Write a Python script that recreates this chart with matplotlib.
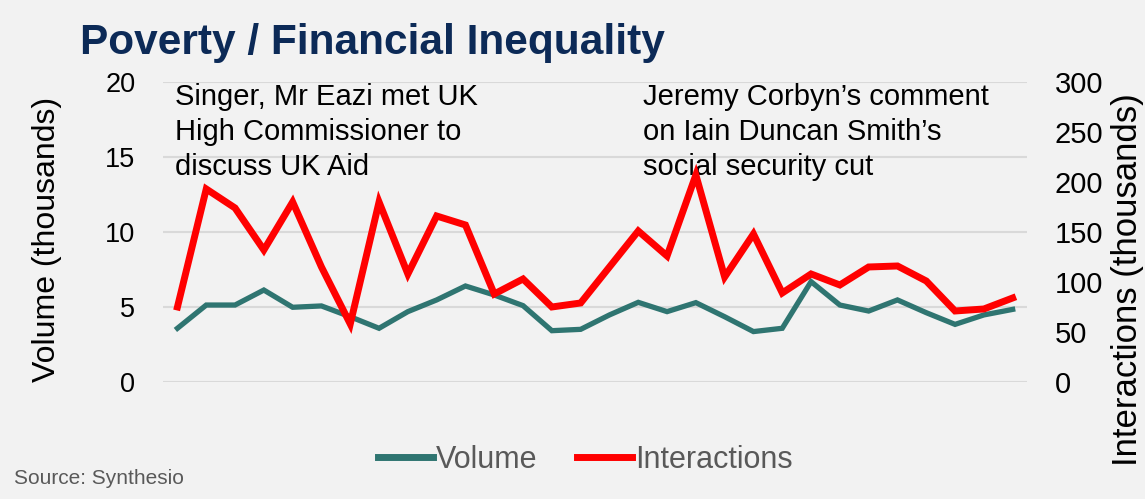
import matplotlib.pyplot as plt
from matplotlib.lines import Line2D

# weekly values, in thousands
volume = [3.58, 5.13, 5.13, 6.13, 4.98, 5.07, 4.35, 3.58, 4.69, 5.47,
          6.4, 5.8, 5.09, 3.42, 3.51, 4.47, 5.31, 4.69, 5.29, 4.35,
          3.36, 3.58, 6.69, 5.13, 4.73, 5.47, 4.62, 3.84, 4.47, 4.84]
interactions = [75, 193, 174, 132, 180, 115, 58, 180, 108, 166,
                157, 88, 103, 75, 79, 115, 151, 126, 207, 105,
                148, 89, 108, 97, 115, 116, 101, 71, 73, 84]
weeks = list(range(len(volume)))

left_ticks = [0, 5, 10, 15, 20]
right_ticks = [0, 50, 100, 150, 200, 250, 300]

bg = "#f2f2f2"
teal = "#2f7571"
red = "#ff0000"
navy = "#0c2a57"
grey = "#595959"
plt.rcParams["font.family"] = ["Liberation Sans", "DejaVu Sans"]

fig = plt.figure(figsize=(11.45, 4.99), dpi=100, facecolor=bg)
ax = fig.add_axes([0.1424, 0.2345, 0.7546, 0.6012])
ax.set_facecolor(bg)
ax2 = ax.twinx()

ax.plot(weeks, volume, color=teal, lw=3.8, solid_joinstyle="miter", zorder=3)
ax2.plot(weeks, interactions, color=red, lw=5, solid_joinstyle="miter", zorder=3)

ax.set_xlim(-0.5, len(weeks) - 0.5)
ax.set_ylim(0, 20)
ax2.set_ylim(0, 300)
ax.set_yticks(left_ticks)
ax2.set_yticks(right_ticks)
ax.set_xticks([])
ax.grid(axis="y", color="#d9d9d9", lw=1.5)
ax.set_axisbelow(True)
ax.tick_params(axis="y", length=0, pad=20, labelsize=19.5)
ax2.tick_params(axis="y", length=0, pad=20, labelsize=21)
for a in (ax, ax2):
    for s in a.spines.values():
        s.set_visible(False)

fig.text(0.041, 0.52, "Volume (thousands)", rotation=90, fontsize=23,
         ha="center", va="center")
fig.text(0.985, 0.44, "Interactions (thousands)", rotation=90, fontsize=25,
         ha="center", va="center")

ax.text(0.014, 0.995, "Singer, Mr Eazi met UK\nHigh Commissioner to\ndiscuss UK Aid",
        transform=ax.transAxes, fontsize=21, va="top", ha="left", linespacing=1.3)
ax.text(0.555, 0.995, "Jeremy Corbyn\u2019s comment\non Iain Duncan Smith\u2019s\nsocial security cut",
        transform=ax.transAxes, fontsize=21, va="top", ha="left", linespacing=1.3)

fig.text(0.07, 0.892, "Poverty / Financial Inequality", fontsize=30.5,
         fontweight="bold", color=navy, va="baseline")

handles = [Line2D([], [], color=teal, lw=5), Line2D([], [], color=red, lw=5)]
leg = fig.legend(handles, ["Volume", "Interactions"], loc="center",
                 bbox_to_anchor=(0.511, 0.078), ncol=2, frameon=False,
                 handlelength=1.8, handletextpad=0.1, columnspacing=1.3,
                 prop={"size": 22})
for t in leg.get_texts():
    t.set_color(grey)

fig.text(0.012, 0.03, "Source: Synthesio", fontsize=15, color=grey,
         va="baseline")

fig.savefig("out.png", dpi=100, facecolor=bg)
